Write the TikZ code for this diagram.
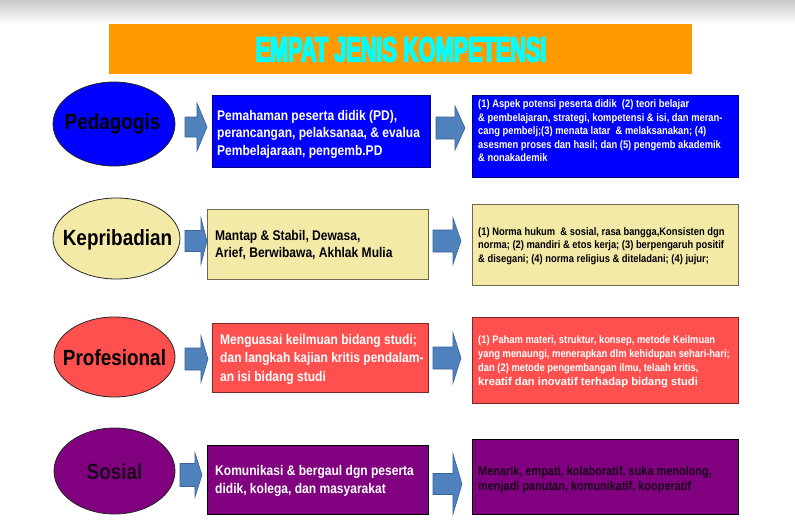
\documentclass[tikz,border=0pt]{standalone}
\usepackage{fontspec}
\setmainfont{Liberation Sans}
\newfontfamily\cf[FakeStretch=0.86]{Liberation Sans}
\newfontfamily\tf[FakeStretch=0.62,FakeBold=4]{Liberation Sans}
\usetikzlibrary{shapes.geometric}
\definecolor{orangeT}{HTML}{FF9900}
\definecolor{cyanT}{HTML}{00FFFF}
\definecolor{blueF}{HTML}{0000FF}
\definecolor{yellowF}{HTML}{F4EAA8}
\definecolor{redF}{HTML}{FF5050}
\definecolor{purpleF}{HTML}{800080}
\definecolor{arrowF}{HTML}{4F81BD}
\definecolor{arrowD}{HTML}{3A6496}
\definecolor{topgray}{HTML}{C8C8C8}
\newcommand\barrow[6]{%
  \draw[barr] (#1,#4-#5) -- (#2,#4-#5) -- (#2,#4-#6) -- (#3,#4) -- (#2,#4+#6) -- (#2,#4+#5) -- (#1,#4+#5) -- cycle;}
\tikzset{
  oval/.style={ellipse, draw=black!85, line width=0.8pt, inner sep=0pt},
  ovaltxt/.style={inner sep=0pt, font=\cf\bfseries\fontsize{22}{24}\selectfont},
  box/.style={draw, line width=0.8pt, inner sep=0pt, anchor=north west},
  midtxt/.style={anchor=base west, inner sep=0pt, font=\cf\bfseries\fontsize{14}{17.5}\selectfont},
  rtxt/.style={anchor=base west, inner sep=0pt, font=\cf\bfseries\fontsize{10.9}{13.5}\selectfont},
  barr/.style={fill=arrowF, draw=arrowD, line width=0.6pt},
}
\begin{document}
\begin{tikzpicture}[x=1pt,y=-1pt]
\useasboundingbox (0,0) rectangle (795,530);
\fill[white] (0,0) rectangle (795,530);
\shade[top color=topgray, bottom color=white] (0,0) rectangle (795,24);
% title
\node[fill=orangeT, minimum width=583pt, minimum height=50pt, inner sep=0pt, anchor=north west] (bar) at (109,24) {};
\node[anchor=base, inner sep=0pt, text=cyanT, font=\tf\bfseries\fontsize{35}{35}\selectfont] (title) at (401,61.5) {EMPAT JENIS KOMPETENSI};
% ellipses
\node[oval, fill=blueF, minimum width=122pt, minimum height=84pt] (e1) at (114,124) {};
\node[oval, fill=yellowF, minimum width=127pt, minimum height=81pt] (e2) at (116.5,238.5) {};
\node[oval, fill=redF, minimum width=121pt, minimum height=80pt] (e3) at (114.5,357) {};
\node[oval, fill=purpleF, minimum width=121pt, minimum height=86pt] (e4) at (114.5,471) {};
\node[ovaltxt, text=black] (e1t) at (112.5,124) {Pedagogis};
\node[ovaltxt, text=black] (e2t) at (117.5,240) {Kepribadian};
\node[ovaltxt, text=black] (e3t) at (114.5,358) {Profesional};
\node[ovaltxt, text={rgb,255:red,30;green,0;blue,30}] (e4t) at (114.5,472) {Sosial};
% middle boxes
\node[box, fill=blueF, draw=blueF!50!black, minimum width=218pt, minimum height=72pt] (b1) at (212,95) {};
\node[box, fill=yellowF, draw=yellowF!45!black, minimum width=221pt, minimum height=70pt] (b2) at (207,209) {};
\node[box, fill=redF, draw=redF!50!black, minimum width=216pt, minimum height=69pt] (b3) at (212,323) {};
\node[box, fill=purpleF, draw=black, minimum width=221pt, minimum height=69pt] (b4) at (207,445) {};
% right boxes
\node[box, fill=blueF, draw=blueF!50!black, minimum width=266pt, minimum height=82pt] (r1) at (472,95) {};
\node[box, fill=yellowF, draw=yellowF!45!black, minimum width=266pt, minimum height=81pt] (r2) at (472,204) {};
\node[box, fill=redF, draw=redF!50!black, minimum width=266pt, minimum height=86pt] (r3) at (472,317) {};
\node[box, fill=purpleF, draw=black, minimum width=266pt, minimum height=75pt] (r4) at (472,439) {};
% middle texts
\node[midtxt, text=white, font=\cf\bfseries\fontsize{14}{17.5}\selectfont] (b1t) at (217,120) {\vtop{\hbox{Pemahaman peserta didik (PD),}\hbox{perancangan, pelaksanaa, \& evalua}\hbox{Pembelajaraan, pengemb.PD}}};
\node[midtxt, text=black] (b2t) at (215,240) {\vtop{\hbox{Mantap \& Stabil, Dewasa,}\hbox{Arief, Berwibawa, Akhlak Mulia}}};
\node[midtxt, text=white, font=\cf\bfseries\fontsize{14}{18.5}\selectfont] (b3t) at (220,344) {\vtop{\hbox{Menguasai keilmuan bidang studi;}\hbox{dan langkah kajian kritis pendalam-}\hbox{an isi bidang studi}}};
\node[midtxt, text=white, font=\cf\bfseries\fontsize{14}{18}\selectfont] (b4t) at (215,475) {\vtop{\hbox{Komunikasi \& bergaul dgn peserta}\hbox{didik, kolega, dan masyarakat}}};
% right texts
\node[rtxt, text=white] (r1t) at (478,107.5) {\vtop{\hbox{(1) Aspek potensi peserta didik\ \ (2) teori belajar}\hbox{\& pembelajaran, strategi, kompetensi \& isi, dan meran-}\hbox{cang pembelj;(3) menata latar\ \ \& melaksanakan; (4)}\hbox{asesmen proses dan hasil; dan (5) pengemb akademik}\hbox{\& nonakademik}}};
\node[rtxt, text=black] (r2t) at (478,235) {\vtop{\hbox{(1) Norma hukum\ \ \& sosial, rasa bangga,Konsisten dgn}\hbox{norma; (2) mandiri \& etos kerja; (3) berpengaruh positif}\hbox{\& disegani; (4) norma religius \& diteladani; (4) jujur;}}};
\node[rtxt, text=white, font=\cf\bfseries\fontsize{10.9}{14}\selectfont] (r3t) at (478,343.5) {\vtop{\hbox{(1) Paham materi, struktur, konsep, metode Keilmuan}\hbox{yang menaungi, menerapkan dlm kehidupan sehari-hari;}\hbox{dan (2) metode pengembangan ilmu, telaah kritis,}\hbox{\normalfont\bfseries\fontsize{11.2}{14}\selectfont kreatif dan inovatif terhadap bidang studi}}};
\node[rtxt, text={rgb,255:red,25;green,0;blue,25}, font=\cf\bfseries\fontsize{12.7}{14.5}\selectfont] (r4t) at (478,475.5) {\vtop{\hbox{Menarik, empati, kolaboratif, suka menolong,}\hbox{menjadi panutan, komunikatif, kooperatif}}};
% block arrows
\barrow{185}{197}{207}{127}{10}{24}
\barrow{436}{455}{465}{128}{11}{22}
\barrow{185}{201}{207}{241}{10.5}{23}
\barrow{433}{453}{461}{241}{11}{23}
\barrow{185}{201}{208}{359}{11}{23}
\barrow{433}{453}{461}{358}{11}{25}
\barrow{180}{195}{202}{475}{11.5}{22}
\barrow{433}{453}{462}{484}{10.5}{30}
\end{tikzpicture}
\end{document}
